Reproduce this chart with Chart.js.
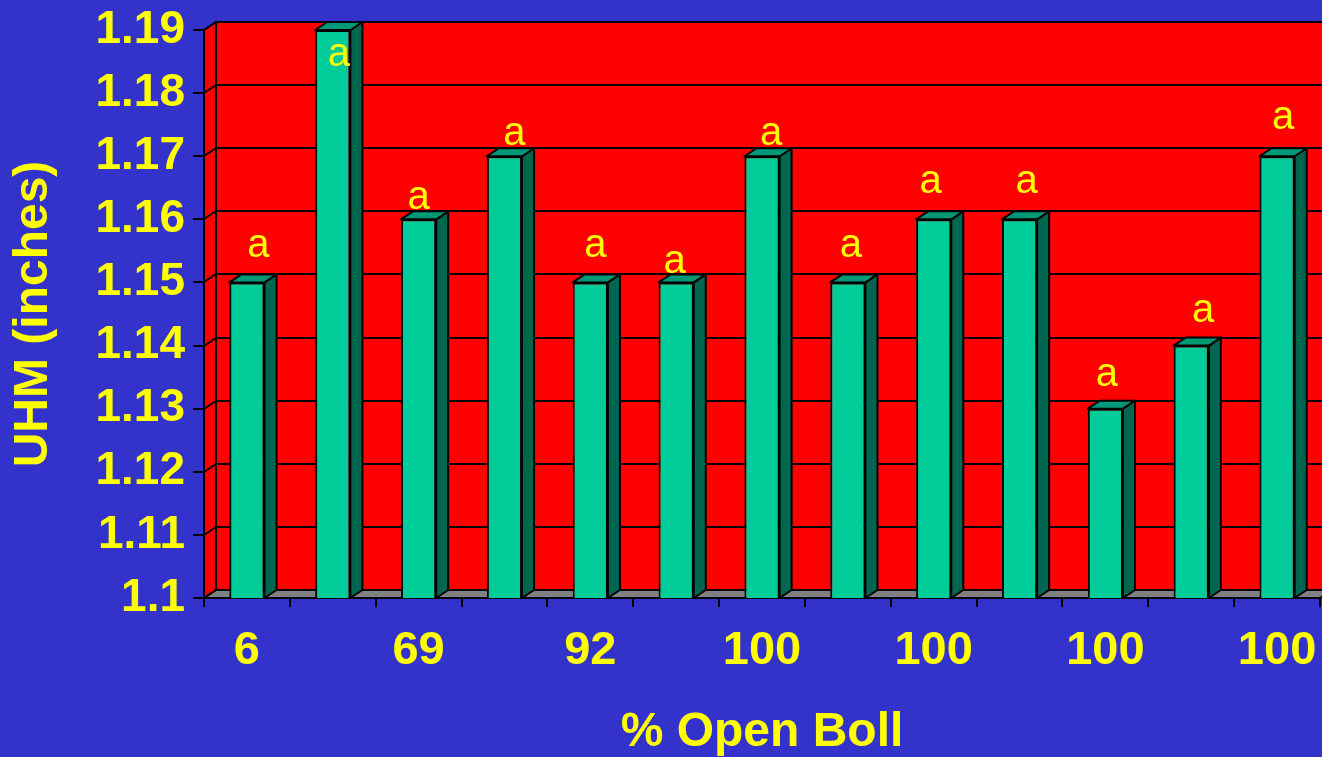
<!DOCTYPE html>
<html>
<head>
<meta charset="utf-8">
<title>UHM by % Open Boll</title>
<script src="https://cdn.jsdelivr.net/npm/chart.js@4/dist/chart.umd.min.js"></script>
<style>
  html, body { margin: 0; padding: 0; background: #3333cc; overflow: hidden; }
  canvas { display: block; }
</style>
</head>
<body>
<canvas id="chart" width="1322" height="757"></canvas>
<script>
// Category labels (every other tick carries a label)
const categories = ['6', '', '69', '', '92', '', '100', '', '100', '', '100', '', '100'];
// Upper half mean fibre length, inches
const uhm = [1.15, 1.19, 1.16, 1.17, 1.15, 1.15, 1.17, 1.15, 1.16, 1.16, 1.13, 1.14, 1.17];
// Mean separation letters
const letters = ['a', 'a', 'a', 'a', 'a', 'a', 'a', 'a', 'a', 'a', 'a', 'a', 'a'];
// Value axis range
const yMin = 1.1;
const yMax = 1.19;
const yStep = 0.01;

const FONT = "'Liberation Sans', Arial, Helvetica, sans-serif";
const YELLOW = '#ffff00';
const DEPTH_X = 12;
const DEPTH_Y = 8;

// Hand-placed letter anchors relative to each bar's front-top centre (px)
const letterNudge = [[11.5, -25], [6, 36], [0, -10], [10, -11], [5, -25], [-1.5, -9], [9, -11],
                     [3, -25], [-3, -26], [7, -26], [1.5, -23], [12, -24], [6, -27]];

function poly(ctx, pts, fill) {
  ctx.beginPath();
  ctx.moveTo(pts[0][0], pts[0][1]);
  for (let i = 1; i < pts.length; i++) ctx.lineTo(pts[i][0], pts[i][1]);
  ctx.closePath();
  ctx.fillStyle = fill;
  ctx.fill();
  ctx.stroke();
}

// Draws the 3-D box (back wall, side wall, floor) and the extruded bar faces
const box3d = {
  id: 'box3d',
  beforeDraw(chart) {
    const { ctx, chartArea: a, scales: { y } } = chart;
    ctx.save();
    ctx.fillStyle = '#3333cc';
    ctx.fillRect(0, 0, chart.width, chart.height);
    ctx.strokeStyle = '#000';
    ctx.lineWidth = 2;
    ctx.lineJoin = 'round';
    // back wall
    poly(ctx, [[a.left + DEPTH_X, a.top - DEPTH_Y], [a.right + DEPTH_X, a.top - DEPTH_Y],
               [a.right + DEPTH_X, a.bottom - DEPTH_Y], [a.left + DEPTH_X, a.bottom - DEPTH_Y]], '#ff0000');
    // left wall
    poly(ctx, [[a.left, a.top], [a.left + DEPTH_X, a.top - DEPTH_Y],
               [a.left + DEPTH_X, a.bottom - DEPTH_Y], [a.left, a.bottom]], '#ff0000');
    // floor
    poly(ctx, [[a.left, a.bottom], [a.left + DEPTH_X, a.bottom - DEPTH_Y],
               [a.right + DEPTH_X, a.bottom - DEPTH_Y], [a.right, a.bottom]], '#808080');
    // gridlines across side and back walls
    ctx.beginPath();
    y.ticks.forEach(t => {
      const py = Math.round(y.getPixelForValue(t.value));
      ctx.moveTo(a.left, py);
      ctx.lineTo(a.left + DEPTH_X, py - DEPTH_Y);
      ctx.lineTo(a.right + DEPTH_X, py - DEPTH_Y);
    });
    ctx.stroke();
    ctx.restore();
  },
  afterDatasetsDraw(chart) {
    const { ctx, chartArea: a } = chart;
    const meta = chart.getDatasetMeta(0);
    const base = a.bottom;
    ctx.save();
    ctx.strokeStyle = '#000';
    ctx.lineWidth = 2;
    ctx.lineJoin = 'round';
    meta.data.forEach(bar => {
      const { x, y, width } = bar.getProps(['x', 'y', 'width'], true);
      const l = x - width / 2, r = x + width / 2;
      // side face
      poly(ctx, [[r, y], [r + DEPTH_X, y - DEPTH_Y], [r + DEPTH_X, base - DEPTH_Y], [r, base]], '#006650');
      // top face
      poly(ctx, [[l, y], [l + DEPTH_X, y - DEPTH_Y], [r + DEPTH_X, y - DEPTH_Y], [r, y]], '#009977');
    });
    // separation letters
    ctx.font = '40px ' + FONT;
    ctx.fillStyle = YELLOW;
    ctx.textAlign = 'center';
    ctx.textBaseline = 'alphabetic';
    meta.data.forEach((bar, i) => {
      const { x, y } = bar.getProps(['x', 'y'], true);
      ctx.fillText(letters[i], x + letterNudge[i][0], y + letterNudge[i][1]);
    });
    ctx.restore();
  }
};

new Chart(document.getElementById('chart'), {
  type: 'bar',
  data: {
    labels: categories,
    datasets: [{
      data: uhm,
      backgroundColor: '#00cc99',
      borderColor: '#000000',
      borderWidth: 2,
      barPercentage: 0.41,
      categoryPercentage: 1.0
    }]
  },
  plugins: [box3d],
  options: {
    responsive: false,
    animation: false,
    devicePixelRatio: 1,
    layout: { padding: { top: 30, right: 2, left: 0, bottom: 0 } },
    plugins: {
      legend: { display: false },
      tooltip: { enabled: false }
    },
    scales: {
      x: {
        grid: { display: true, drawOnChartArea: false, drawTicks: true, tickLength: 9,
                color: '#000', lineWidth: 2, offset: true },
        border: { display: true, color: '#000', width: 2 },
        ticks: {
          color: YELLOW, autoSkip: false, maxRotation: 0, padding: 21,
          font: { family: FONT, size: 47, weight: 'bold', lineHeight: 1 }
        },
        title: {
          display: true, text: '% Open Boll', color: YELLOW,
          font: { family: FONT, size: 48, weight: 'bold', lineHeight: 1 },
          padding: { top: 0, bottom: 0 }
        },
        afterFit(scale) {
          scale.height = 159;
          scale.paddingLeft = 0;
          scale.paddingRight = 0;
        }
      },
      y: {
        min: yMin,
        max: yMax,
        grid: { display: true, drawOnChartArea: false, drawTicks: true, tickLength: 11,
                color: '#000', lineWidth: 2 },
        border: { display: true, color: '#000', width: 2 },
        ticks: {
          stepSize: yStep, color: YELLOW, padding: 8,
          font: { family: FONT, size: 46, weight: 'bold', lineHeight: 1 },
          callback: v => String(Number(v.toFixed(2)))
        },
        title: {
          display: true, text: 'UHM (inches)', color: YELLOW,
          font: { family: FONT, size: 48, weight: 'bold', lineHeight: 1 },
          padding: { top: 10, bottom: 0 }
        },
        afterFit(scale) {
          scale.width = 204;
          scale.paddingTop = 0;
          scale.paddingBottom = 0;
        }
      }
    }
  }
});
</script>
</body>
</html>
